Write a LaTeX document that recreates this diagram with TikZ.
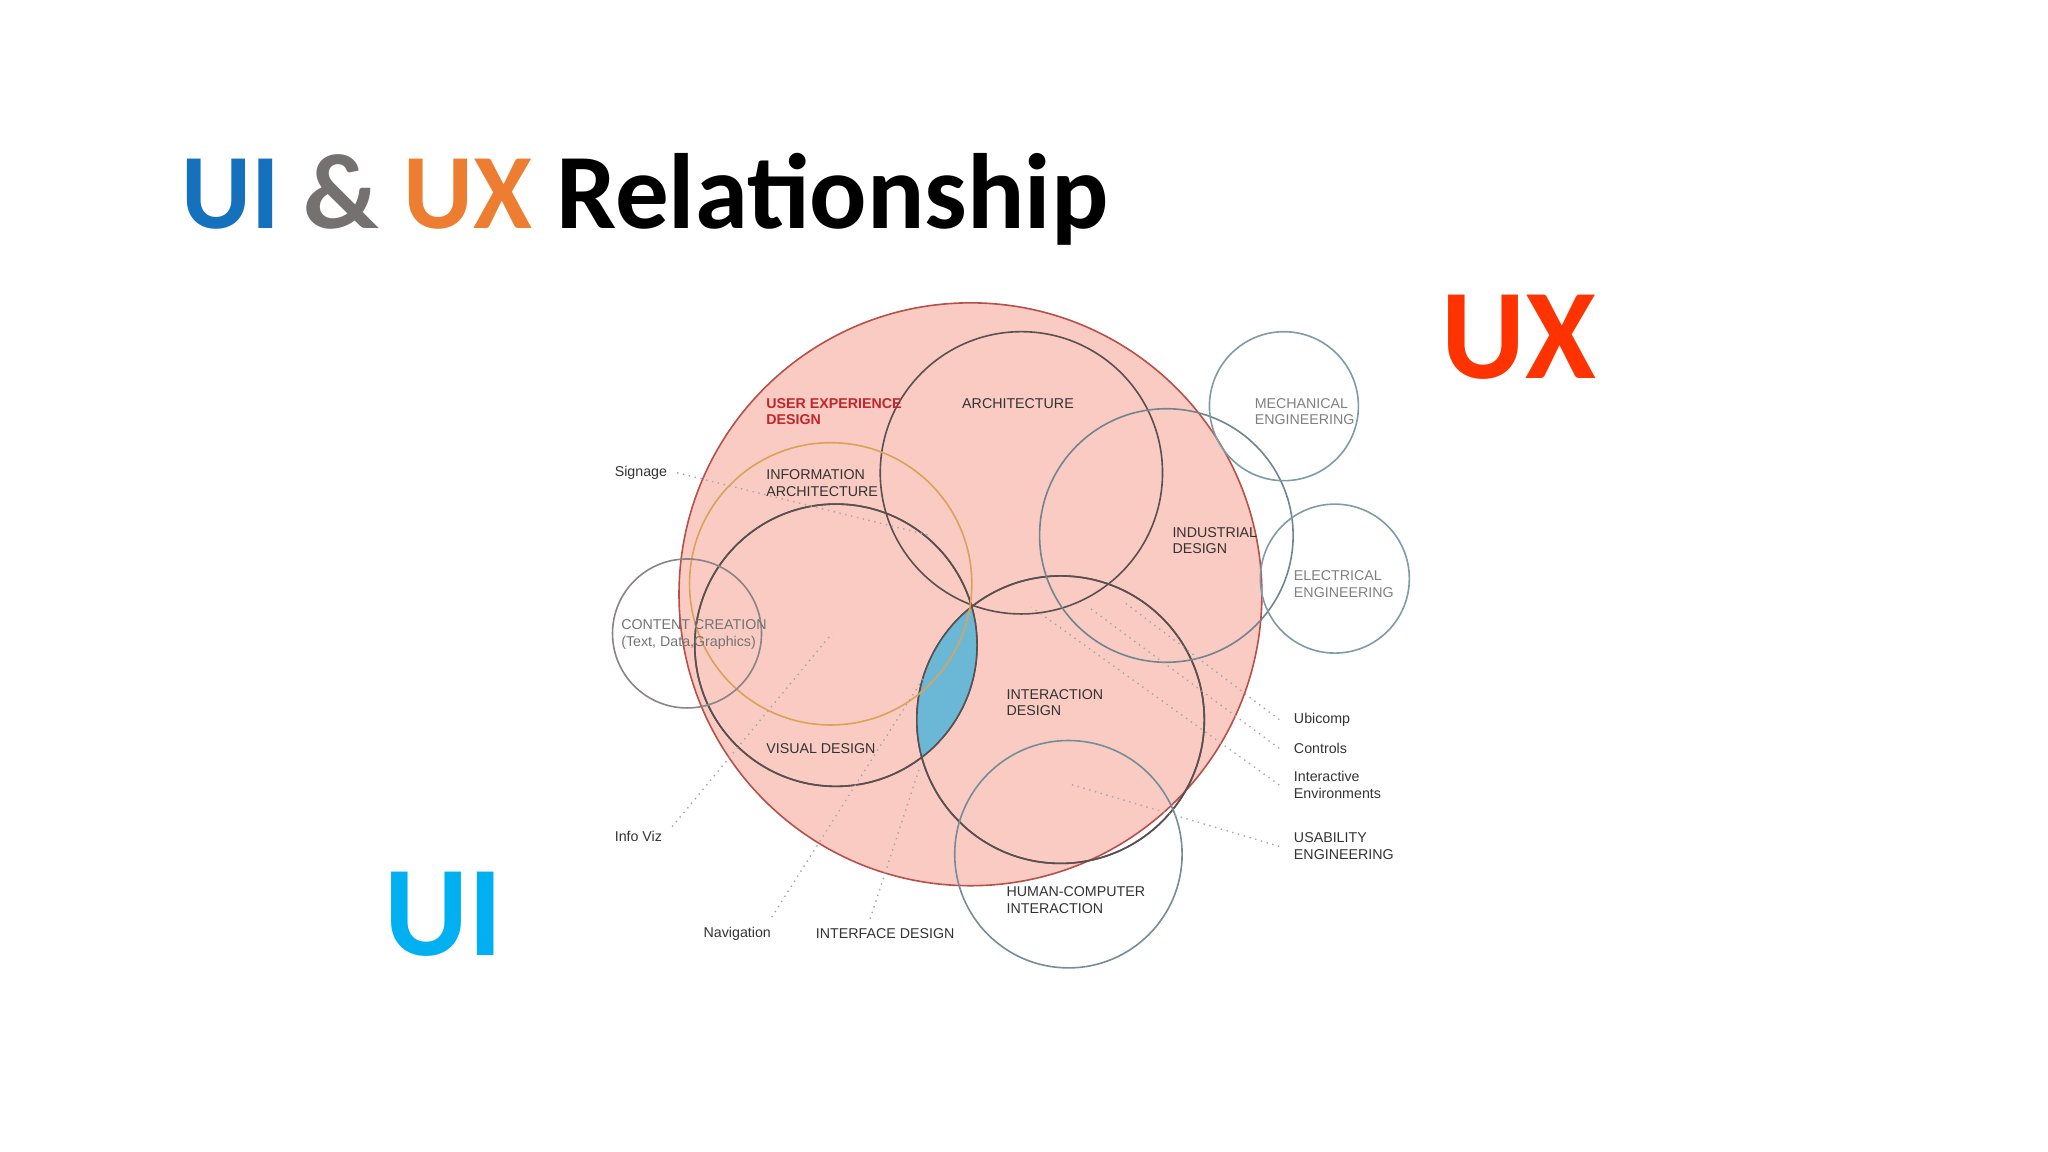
\documentclass[tikz,border=0pt]{standalone}
\usepackage{fontspec}
\setmainfont{Carlito}
\newfontfamily\helv{Liberation Sans}
\usetikzlibrary{positioning}
\definecolor{uxpink}{HTML}{F9CBC3}
\definecolor{uxring}{HTML}{B8504A}
\definecolor{lensblue}{HTML}{6BB8D6}
\definecolor{ringgray}{HTML}{5A5050}
\definecolor{ringblue}{HTML}{7C9CA8}
\definecolor{ringorange}{HTML}{D9A35A}
\definecolor{titleblue}{HTML}{1570BE}
\definecolor{titlegray}{HTML}{767171}
\definecolor{titleorange}{HTML}{ED7D31}
\definecolor{bigux}{HTML}{FF3300}
\definecolor{bigui}{HTML}{00B0F0}
\definecolor{uxred}{HTML}{C0272D}
\tikzset{
  % field circles
  field/.style={
    circle
    , draw=ringgray
    , line width=0.35pt
    , inner sep=0pt
  },
  % labels in the diagram
  lbl/.style={
    anchor=west
    , inner sep=0pt
    , align=left
    , font=\helv\fontsize{3.1}{3.6}\selectfont
    , text=black!80
  },
  % dotted leaders
  lead/.style={
    densely dotted
    , line width=0.3pt
    , draw=black!35
  },
}
\begin{document}
\begin{tikzpicture}[x=0.01cm, y=-0.01cm]
  \useasboundingbox (0,0) rectangle (1568,882);
  % title
  \node[anchor=base west, inner sep=0pt, font=\fontsize{23.3}{28}\selectfont\bfseries]
    (title) at (138,175) {\textcolor{titleblue}{UI} \textcolor{titlegray}{\&} \textcolor{titleorange}{UX} Relationship};
  \node[inner sep=0pt, font=\fontsize{28}{32}\selectfont\bfseries, text=bigux] (ux) at (1163,258) {UX};
  \node[inner sep=0pt, font=\fontsize{28}{32}\selectfont\bfseries, text=bigui] (ui) at (340,700) {UI};

  % big field
  \node[field, fill=uxpink, draw=uxring, minimum size=4.46cm] (uxd) at (743,455) {};
  \node[field, minimum size=2.16cm] (vis) at (640,494) {};
  \node[field, minimum size=2.20cm] (ixd) at (812,551) {};
  \begin{scope}
    \clip (vis.center) circle (1.08cm);
    \fill[lensblue] (ixd.center) circle (1.10cm);
  \end{scope}
  \node[field, minimum size=2.16cm] at (640,494) {};
  \node[field, minimum size=2.20cm] at (812,551) {};
  \node[field, minimum size=2.16cm] (arc) at (782,362) {};
  \node[field, draw=ringorange, minimum size=2.16cm] (ia) at (636,447) {};
  \node[field, draw=ringblue!70!ringgray, minimum size=1.94cm] (ind) at (893,410) {};
  \node[field, draw=ringblue, minimum size=1.14cm] (mec) at (983,311) {};
  \node[field, draw=ringblue, minimum size=1.14cm] (ele) at (1022,443) {};
  \node[field, draw=ringgray!70, minimum size=1.14cm] (cc) at (526,485) {};
  \node[field, draw=ringblue!80!ringgray, minimum size=1.74cm] (hci) at (818,654) {};

  % labels
  \node[lbl, text=uxred, font=\helv\fontsize{3.1}{3.6}\selectfont\bfseries] (luxd) at (586,315) {USER EXPERIENCE\\DESIGN};
  \node[lbl] (larc) at (736,309) {ARCHITECTURE};
  \node[lbl] (lia) at (586,370) {INFORMATION\\ARCHITECTURE};
  \node[lbl] (lind) at (897,414) {INDUSTRIAL\\DESIGN};
  \node[lbl, text=black!50] (lmec) at (960,315) {MECHANICAL\\ENGINEERING};
  \node[lbl, text=black!50] (lele) at (990,447) {ELECTRICAL\\ENGINEERING};
  \node[lbl, text=black!55] (lcc) at (475,486) {CONTENT CREATION\\(Text, Data,Graphics)};
  \node[lbl] (lixd) at (770,538) {INTERACTION\\DESIGN};
  \node[lbl] (lvis) at (586,573) {VISUAL DESIGN};
  \node[lbl] (lhci) at (770,689) {HUMAN-COMPUTER\\INTERACTION};
  \node[lbl] (sig) at (470,362) {Signage};
  \node[lbl] (viz) at (470,640) {Info Viz};
  \node[lbl] (nav) at (538,715) {Navigation};
  \node[lbl] (ifd) at (624,715) {INTERFACE DESIGN};
  \node[lbl] (ubi) at (990,551) {Ubicomp};
  \node[lbl] (ctl) at (990,573) {Controls};
  \node[lbl] (ienv) at (990,601) {Interactive\\Environments};
  \node[lbl] (use) at (990,648) {USABILITY\\ENGINEERING};

  % leader ends
  \coordinate (esig) at (712,410);
  \coordinate (eviz) at (637,485);
  \coordinate (enav) at (714,508);
  \coordinate (eifd) at (704,588);
  \coordinate (eubi) at (862,462);
  \coordinate (ectl) at (835,466);
  \coordinate (eienv) at (790,465);
  \coordinate (euse) at (818,600);

  \draw[lead] ([xshift=2pt]sig.east) -- (esig);
  \draw[lead] ([xshift=2pt,yshift=2pt]viz.east) -- (eviz);
  \draw[lead] ([yshift=2pt]nav.north east) -- (enav);
  \draw[lead] ([xshift=12pt,yshift=2pt]ifd.north west) -- (eifd);
  \draw[lead] ([xshift=-3pt]ubi.west) -- (eubi);
  \draw[lead] ([xshift=-3pt]ctl.west) -- (ectl);
  \draw[lead] ([xshift=-3pt]ienv.west) -- (eienv);
  \draw[lead] ([xshift=-3pt]use.west) -- (euse);
\end{tikzpicture}
\end{document}
